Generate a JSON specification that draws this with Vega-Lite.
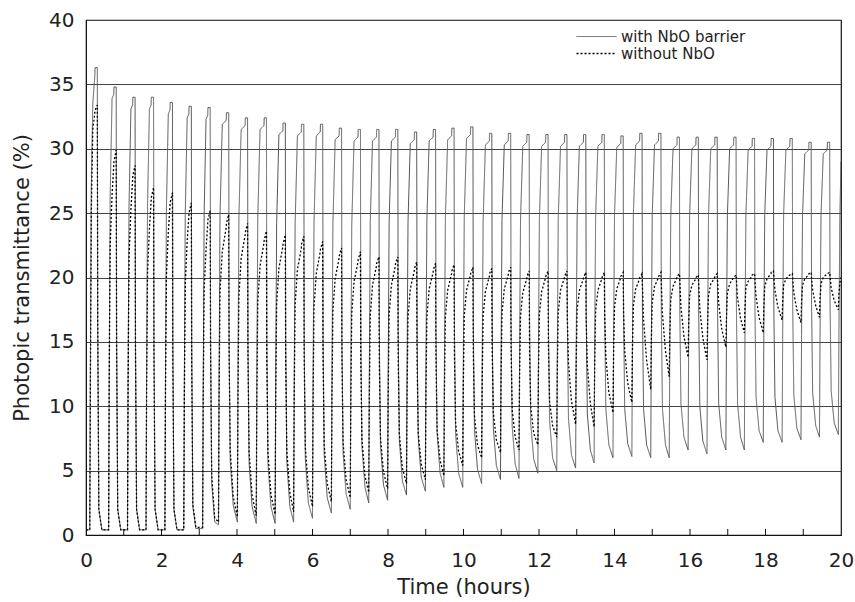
{
"$schema":"https://vega.github.io/schema/vega-lite/v6.json",
"width":755,"height":515,
"autosize":{"type":"none"},
"padding":{"left":86,"top":20,"right":14,"bottom":67},
"background":"white",
"config":{"font":"DejaVu Sans","view":{"stroke":"#111","strokeWidth":1.2}},
"layer":[
{
"data":{"values":[
{"t":0,"a":0.4,"b":0.4},{"t":0.1,"a":0.4,"b":0.4},{"t":0.115,"a":12,"b":11},{"t":0.14,"a":27,"b":25},{"t":0.18,"a":33.5,"b":31.5},{"t":0.235,"a":35.7,"b":32.8},{"t":0.24,"a":36.3,"b":33},{"t":0.3,"a":36.3,"b":33.4},{"t":0.31,"a":16.6,"b":16.9},{"t":0.34,"a":2,"b":2},{"t":0.42,"a":0.4,"b":0.4},
{"t":0.6,"a":0.4,"b":0.4},{"t":0.615,"a":12.4,"b":12.2},{"t":0.64,"a":26.2,"b":22.5},{"t":0.69,"a":33.9,"b":26.4},{"t":0.735,"a":34.2,"b":28.7},{"t":0.74,"a":34.8,"b":29},{"t":0.8,"a":34.8,"b":29.9},{"t":0.81,"a":15.9,"b":15.2},{"t":0.84,"a":2,"b":2},{"t":0.92,"a":0.4,"b":0.4},
{"t":1.1,"a":0.4,"b":0.4},{"t":1.115,"a":12.2,"b":11.7},{"t":1.14,"a":25.6,"b":21.6},{"t":1.19,"a":33.1,"b":25.3},{"t":1.235,"a":33.4,"b":27.6},{"t":1.24,"a":34,"b":27.9},{"t":1.3,"a":34,"b":28.7},{"t":1.31,"a":15.5,"b":14.6},{"t":1.34,"a":2,"b":2},{"t":1.42,"a":0.4,"b":0.4},
{"t":1.59,"a":0.4,"b":0.4},{"t":1.605,"a":12.2,"b":11},{"t":1.63,"a":25.6,"b":20.4},{"t":1.68,"a":33.1,"b":23.8},{"t":1.725,"a":33.4,"b":25.9},{"t":1.73,"a":34,"b":26.2},{"t":1.79,"a":34,"b":27},{"t":1.8,"a":15.5,"b":13.7},{"t":1.83,"a":2,"b":2},{"t":1.91,"a":0.4,"b":0.4},
{"t":2.09,"a":0.4,"b":0.4},{"t":2.105,"a":12,"b":10.9},{"t":2.13,"a":25.3,"b":20.1},{"t":2.18,"a":32.7,"b":23.5},{"t":2.225,"a":33,"b":25.6},{"t":2.23,"a":33.6,"b":25.8},{"t":2.29,"a":33.6,"b":26.6},{"t":2.3,"a":15.3,"b":13.5},{"t":2.33,"a":2,"b":2},{"t":2.41,"a":0.4,"b":0.4},
{"t":2.59,"a":0.4,"b":0.4},{"t":2.605,"a":11.9,"b":10.6},{"t":2.63,"a":25.1,"b":19.5},{"t":2.68,"a":32.4,"b":22.8},{"t":2.725,"a":32.7,"b":24.8},{"t":2.73,"a":33.3,"b":25},{"t":2.79,"a":33.3,"b":25.8},{"t":2.8,"a":15.3,"b":13.2},{"t":2.83,"a":2.2,"b":2.4},{"t":2.91,"a":0.5,"b":0.6},
{"t":3.09,"a":0.5,"b":0.6},{"t":3.105,"a":11.9,"b":10.4},{"t":3.13,"a":25,"b":19.1},{"t":3.18,"a":32.3,"b":22.2},{"t":3.225,"a":32.6,"b":24.2},{"t":3.23,"a":33.2,"b":24.5},{"t":3.29,"a":33.2,"b":25.2},{"t":3.3,"a":15.4,"b":14.3},{"t":3.33,"a":4,"b":4.6},{"t":3.41,"a":1,"b":1.3},
{"t":3.51,"a":0.8,"b":1},{"t":3.525,"a":12,"b":10.6},{"t":3.55,"a":24.8,"b":18.9},{"t":3.61,"a":31.9,"b":22},{"t":3.715,"a":32.2,"b":23.9},{"t":3.72,"a":32.8,"b":24.2},{"t":3.78,"a":32.8,"b":24.9},{"t":3.79,"a":15.3,"b":14.3},{"t":3.82,"a":5.8,"b":6.6},{"t":3.9,"a":2.3,"b":3},
{"t":4.01,"a":1,"b":1.4},{"t":4.025,"a":12,"b":10.5},{"t":4.05,"a":24.6,"b":18.5},{"t":4.11,"a":31.5,"b":21.5},{"t":4.215,"a":31.8,"b":23.3},{"t":4.22,"a":32.4,"b":23.5},{"t":4.28,"a":32.4,"b":24.2},{"t":4.29,"a":15.1,"b":14},{"t":4.32,"a":5.6,"b":6.5},{"t":4.4,"a":2.2,"b":3.1},
{"t":4.51,"a":0.9,"b":1.5},{"t":4.525,"a":11.9,"b":10.3},{"t":4.55,"a":24.5,"b":18.1},{"t":4.61,"a":31.5,"b":20.9},{"t":4.715,"a":31.8,"b":22.7},{"t":4.72,"a":32.4,"b":22.9},{"t":4.78,"a":32.4,"b":23.6},{"t":4.79,"a":15.1,"b":13.7},{"t":4.82,"a":5.6,"b":6.4},{"t":4.9,"a":2.2,"b":3.1},
{"t":5.01,"a":0.9,"b":1.6},{"t":5.025,"a":11.8,"b":10.3},{"t":5.05,"a":24.2,"b":17.9},{"t":5.11,"a":31.1,"b":20.7},{"t":5.215,"a":31.4,"b":22.4},{"t":5.22,"a":32,"b":22.6},{"t":5.28,"a":32,"b":23.3},{"t":5.29,"a":15,"b":13.6},{"t":5.32,"a":5.7,"b":6.5},{"t":5.4,"a":2.2,"b":3.3},
{"t":5.5,"a":1,"b":1.8},{"t":5.515,"a":11.8,"b":10.4},{"t":5.54,"a":24.2,"b":17.9},{"t":5.6,"a":31,"b":20.6},{"t":5.705,"a":31.3,"b":22.3},{"t":5.71,"a":31.9,"b":22.6},{"t":5.77,"a":31.9,"b":23.2},{"t":5.78,"a":15.1,"b":13.8},{"t":5.81,"a":5.9,"b":6.8},{"t":5.89,"a":2.5,"b":3.7},
{"t":6,"a":1.3,"b":2.2},{"t":6.015,"a":12,"b":10.4},{"t":6.04,"a":24.3,"b":17.7},{"t":6.1,"a":31,"b":20.3},{"t":6.205,"a":31.3,"b":22},{"t":6.21,"a":31.9,"b":22.2},{"t":6.27,"a":31.9,"b":22.8},{"t":6.28,"a":15.3,"b":13.7},{"t":6.31,"a":6.2,"b":7},{"t":6.39,"a":2.9,"b":4},
{"t":6.5,"a":1.7,"b":2.6},{"t":6.515,"a":12.2,"b":10.5},{"t":6.54,"a":24.1,"b":17.4},{"t":6.6,"a":30.7,"b":19.9},{"t":6.705,"a":31,"b":21.5},{"t":6.71,"a":31.6,"b":21.7},{"t":6.77,"a":31.6,"b":22.3},{"t":6.78,"a":15.3,"b":13.6},{"t":6.81,"a":6.4,"b":7.2},{"t":6.89,"a":3.2,"b":4.3},
{"t":7,"a":2,"b":2.9},{"t":7.015,"a":12.3,"b":10.5},{"t":7.04,"a":24.1,"b":17.2},{"t":7.1,"a":30.6,"b":19.7},{"t":7.205,"a":30.9,"b":21.2},{"t":7.21,"a":31.5,"b":21.4},{"t":7.27,"a":31.5,"b":22},{"t":7.28,"a":15.6,"b":13.6},{"t":7.31,"a":6.9,"b":7.4},{"t":7.39,"a":3.7,"b":4.6},
{"t":7.49,"a":2.5,"b":3.3},{"t":7.505,"a":12.7,"b":10.6},{"t":7.53,"a":24.3,"b":17},{"t":7.59,"a":30.6,"b":19.4},{"t":7.695,"a":30.9,"b":20.9},{"t":7.7,"a":31.5,"b":21.1},{"t":7.76,"a":31.5,"b":21.6},{"t":7.77,"a":15.7,"b":13.5},{"t":7.8,"a":7,"b":7.6},{"t":7.88,"a":3.9,"b":4.9},
{"t":7.99,"a":2.7,"b":3.6},{"t":8.005,"a":12.8,"b":10.8},{"t":8.03,"a":24.3,"b":17.1},{"t":8.09,"a":30.6,"b":19.4},{"t":8.195,"a":30.9,"b":20.9},{"t":8.2,"a":31.5,"b":21.1},{"t":8.26,"a":31.5,"b":21.6},{"t":8.27,"a":15.9,"b":13.7},{"t":8.3,"a":7.4,"b":7.9},{"t":8.38,"a":4.2,"b":5.2},
{"t":8.49,"a":3.1,"b":4},{"t":8.505,"a":13,"b":10.9},{"t":8.53,"a":24.3,"b":16.9},{"t":8.59,"a":30.4,"b":19.1},{"t":8.695,"a":30.7,"b":20.5},{"t":8.7,"a":31.3,"b":20.7},{"t":8.76,"a":31.3,"b":21.2},{"t":8.77,"a":16,"b":13.6},{"t":8.8,"a":7.6,"b":8},{"t":8.88,"a":4.5,"b":5.5},
{"t":8.99,"a":3.4,"b":4.3},{"t":9.005,"a":13.2,"b":11},{"t":9.03,"a":24.5,"b":16.9},{"t":9.09,"a":30.6,"b":19.1},{"t":9.195,"a":30.9,"b":20.4},{"t":9.2,"a":31.5,"b":20.6},{"t":9.26,"a":31.5,"b":21.1},{"t":9.27,"a":16.2,"b":13.7},{"t":9.3,"a":7.9,"b":8.2},{"t":9.38,"a":4.8,"b":5.8},
{"t":9.48,"a":3.7,"b":4.6},{"t":9.495,"a":13.5,"b":11.2},{"t":9.52,"a":24.6,"b":16.9},{"t":9.58,"a":30.7,"b":19},{"t":9.685,"a":31,"b":20.3},{"t":9.69,"a":31.6,"b":20.5},{"t":9.75,"a":31.6,"b":21},{"t":9.76,"a":16.3,"b":14},{"t":9.79,"a":7.9,"b":8.8},{"t":9.87,"a":4.8,"b":6.5},
{"t":9.98,"a":3.7,"b":5.4},{"t":9.995,"a":13.5,"b":11.6},{"t":10.02,"a":24.7,"b":17},{"t":10.08,"a":30.8,"b":19},{"t":10.185,"a":31.1,"b":20.2},{"t":10.19,"a":31.7,"b":20.3},{"t":10.25,"a":31.7,"b":20.8},{"t":10.26,"a":16.5,"b":14.1},{"t":10.29,"a":8.2,"b":9.3},{"t":10.37,"a":5.1,"b":7},
{"t":10.48,"a":4,"b":6},{"t":10.495,"a":13.5,"b":11.9},{"t":10.52,"a":24.4,"b":17},{"t":10.58,"a":30.3,"b":18.9},{"t":10.685,"a":30.6,"b":20.1},{"t":10.69,"a":31.2,"b":20.3},{"t":10.75,"a":31.2,"b":20.7},{"t":10.76,"a":16.4,"b":14.3},{"t":10.79,"a":8.3,"b":9.5},{"t":10.87,"a":5.4,"b":7.4},
{"t":10.98,"a":4.3,"b":6.4},{"t":10.995,"a":13.7,"b":12.2},{"t":11.02,"a":24.5,"b":17.2},{"t":11.08,"a":30.3,"b":19.1},{"t":11.185,"a":30.6,"b":20.2},{"t":11.19,"a":31.2,"b":20.4},{"t":11.25,"a":31.2,"b":20.8},{"t":11.26,"a":16.5,"b":14.4},{"t":11.29,"a":8.4,"b":9.7},{"t":11.37,"a":5.5,"b":7.6},
{"t":11.47,"a":4.4,"b":6.6},{"t":11.485,"a":13.7,"b":12.2},{"t":11.51,"a":24.4,"b":17},{"t":11.57,"a":30.2,"b":18.8},{"t":11.675,"a":30.5,"b":19.9},{"t":11.68,"a":31.1,"b":20.1},{"t":11.74,"a":31.1,"b":20.5},{"t":11.75,"a":16.6,"b":14.4},{"t":11.78,"a":8.7,"b":10},{"t":11.86,"a":5.9,"b":7.9},
{"t":11.97,"a":4.8,"b":7},{"t":11.985,"a":14,"b":12.4},{"t":12.01,"a":24.5,"b":17.1},{"t":12.07,"a":30.2,"b":18.9},{"t":12.175,"a":30.5,"b":20},{"t":12.18,"a":31.1,"b":20.1},{"t":12.24,"a":31.1,"b":20.5},{"t":12.25,"a":16.7,"b":14.7},{"t":12.28,"a":8.9,"b":10.4},{"t":12.36,"a":6,"b":8.5},
{"t":12.47,"a":5,"b":7.6},{"t":12.485,"a":14.1,"b":12.8},{"t":12.51,"a":24.6,"b":17.3},{"t":12.57,"a":30.2,"b":19},{"t":12.675,"a":30.5,"b":20},{"t":12.68,"a":31.1,"b":20.1},{"t":12.74,"a":31.1,"b":20.5},{"t":12.75,"a":16.9,"b":16.9},{"t":12.78,"a":9.1,"b":13.4},{"t":12.86,"a":6.2,"b":10.4},
{"t":12.97,"a":5.2,"b":8.6},{"t":12.985,"a":14.3,"b":13.3},{"t":13.01,"a":24.6,"b":17.5},{"t":13.07,"a":30.2,"b":19},{"t":13.175,"a":30.5,"b":19.9},{"t":13.18,"a":31.1,"b":20},{"t":13.24,"a":31.1,"b":20.4},{"t":13.25,"a":17.1,"b":16.8},{"t":13.28,"a":9.4,"b":13.2},{"t":13.36,"a":6.6,"b":10.2},
{"t":13.46,"a":5.6,"b":8.4},{"t":13.475,"a":14.5,"b":13.2},{"t":13.5,"a":24.7,"b":17.4},{"t":13.56,"a":30.2,"b":19},{"t":13.665,"a":30.5,"b":19.9},{"t":13.67,"a":31.1,"b":20},{"t":13.73,"a":31.1,"b":20.4},{"t":13.74,"a":17.3,"b":17.1},{"t":13.77,"a":9.8,"b":13.9},{"t":13.85,"a":7,"b":11.1},
{"t":13.96,"a":6,"b":9.5},{"t":13.975,"a":14.8,"b":13.9},{"t":14,"a":24.8,"b":17.7},{"t":14.06,"a":30.1,"b":19.1},{"t":14.165,"a":30.4,"b":20},{"t":14.17,"a":31,"b":20.1},{"t":14.23,"a":31,"b":20.4},{"t":14.24,"a":17.3,"b":17.4},{"t":14.27,"a":9.8,"b":14.3},{"t":14.35,"a":7.1,"b":11.8},
{"t":14.46,"a":6.1,"b":10.3},{"t":14.475,"a":14.9,"b":14.3},{"t":14.5,"a":24.9,"b":17.8},{"t":14.56,"a":30.3,"b":19.1},{"t":14.665,"a":30.6,"b":19.9},{"t":14.67,"a":31.2,"b":20},{"t":14.73,"a":31.2,"b":20.3},{"t":14.74,"a":17.3,"b":19.4},{"t":14.77,"a":9.8,"b":16.7},{"t":14.85,"a":7,"b":13.6},
{"t":14.96,"a":6,"b":11.3},{"t":14.975,"a":14.8,"b":14.9},{"t":15,"a":24.9,"b":18.1},{"t":15.06,"a":30.3,"b":19.3},{"t":15.165,"a":30.6,"b":20},{"t":15.17,"a":31.2,"b":20.1},{"t":15.23,"a":31.2,"b":20.4},{"t":15.24,"a":17.3,"b":19.6},{"t":15.27,"a":9.8,"b":17.2},{"t":15.35,"a":7,"b":14.3},
{"t":15.45,"a":6,"b":12.3},{"t":15.465,"a":14.7,"b":15.5},{"t":15.49,"a":24.7,"b":18.3},{"t":15.55,"a":30,"b":19.3},{"t":15.655,"a":30.3,"b":20},{"t":15.66,"a":30.9,"b":20.1},{"t":15.72,"a":30.9,"b":20.3},{"t":15.73,"a":17.5,"b":19.7},{"t":15.76,"a":10.2,"b":17.7},{"t":15.84,"a":7.6,"b":15.4},
{"t":15.95,"a":6.6,"b":13.8},{"t":15.965,"a":15.1,"b":16.4},{"t":15.99,"a":24.8,"b":18.6},{"t":16.05,"a":30,"b":19.4},{"t":16.155,"a":30.3,"b":19.9},{"t":16.16,"a":30.9,"b":20},{"t":16.22,"a":30.9,"b":20.2},{"t":16.23,"a":17.4,"b":19.5},{"t":16.26,"a":10,"b":17.6},{"t":16.34,"a":7.3,"b":15.3},
{"t":16.45,"a":6.3,"b":13.6},{"t":16.465,"a":14.9,"b":16.3},{"t":16.49,"a":24.8,"b":18.6},{"t":16.55,"a":30,"b":19.5},{"t":16.655,"a":30.3,"b":20},{"t":16.66,"a":30.9,"b":20.1},{"t":16.72,"a":30.9,"b":20.3},{"t":16.73,"a":17.5,"b":19.7},{"t":16.76,"a":10.2,"b":18},{"t":16.84,"a":7.6,"b":16},
{"t":16.95,"a":6.6,"b":14.6},{"t":16.965,"a":15.1,"b":16.8},{"t":16.99,"a":24.8,"b":18.8},{"t":17.05,"a":30,"b":19.5},{"t":17.155,"a":30.3,"b":20},{"t":17.16,"a":30.9,"b":20},{"t":17.22,"a":30.9,"b":20.2},{"t":17.23,"a":17.5,"b":19.8},{"t":17.26,"a":10.2,"b":18.4},{"t":17.34,"a":7.6,"b":16.8},
{"t":17.44,"a":6.6,"b":15.7},{"t":17.455,"a":15.1,"b":17.5},{"t":17.48,"a":24.8,"b":19.2},{"t":17.54,"a":29.9,"b":19.7},{"t":17.645,"a":30.2,"b":20.1},{"t":17.65,"a":30.8,"b":20.2},{"t":17.71,"a":30.8,"b":20.3},{"t":17.72,"a":17.8,"b":19.8},{"t":17.75,"a":10.7,"b":18.5},{"t":17.83,"a":8.1,"b":16.9},
{"t":17.94,"a":7.2,"b":15.7},{"t":17.955,"a":15.5,"b":17.6},{"t":17.98,"a":24.9,"b":19.3},{"t":18.04,"a":29.9,"b":19.9},{"t":18.145,"a":30.2,"b":20.3},{"t":18.15,"a":30.8,"b":20.4},{"t":18.21,"a":30.8,"b":20.5},{"t":18.22,"a":17.8,"b":20.1},{"t":18.25,"a":10.7,"b":19},{"t":18.33,"a":8.1,"b":17.7},
{"t":18.44,"a":7.2,"b":16.7},{"t":18.455,"a":15.5,"b":18.1},{"t":18.48,"a":24.9,"b":19.4},{"t":18.54,"a":29.9,"b":19.9},{"t":18.645,"a":30.2,"b":20.2},{"t":18.65,"a":30.8,"b":20.2},{"t":18.71,"a":30.8,"b":20.3},{"t":18.72,"a":17.9,"b":19.9},{"t":18.75,"a":10.9,"b":18.8},{"t":18.83,"a":8.3,"b":17.5},
{"t":18.94,"a":7.4,"b":16.5},{"t":18.955,"a":15.5,"b":18.1},{"t":18.98,"a":24.7,"b":19.4},{"t":19.04,"a":29.6,"b":19.9},{"t":19.145,"a":29.9,"b":20.2},{"t":19.15,"a":30.5,"b":20.3},{"t":19.21,"a":30.5,"b":20.4},{"t":19.22,"a":17.9,"b":20},{"t":19.25,"a":11,"b":19},{"t":19.33,"a":8.5,"b":17.8},
{"t":19.43,"a":7.6,"b":16.9},{"t":19.445,"a":15.6,"b":18.3},{"t":19.47,"a":24.8,"b":19.5},{"t":19.53,"a":29.6,"b":20},{"t":19.635,"a":29.9,"b":20.3},{"t":19.64,"a":30.5,"b":20.3},{"t":19.7,"a":30.5,"b":20.4},{"t":19.71,"a":18,"b":20.1},{"t":19.74,"a":11.2,"b":19.2},{"t":19.82,"a":8.7,"b":18.2},
{"t":19.93,"a":7.8,"b":17.5},{"t":19.945,"a":15.7,"b":18.7},{"t":19.97,"a":24.8,"b":19.6},{"t":20,"a":29,"b":20}
]},
"transform":[{"fold":["a","b"],"as":["series","value"]}],
"mark":{"type":"line","clip":true},
"encoding":{
"x":{"field":"t","type":"quantitative","scale":{"domain":[0,20],"nice":false,"zero":false},
"axis":{"title":"Time (hours)","values":[0,2,4,6,8,10,12,14,16,18,20],"grid":false,"ticks":false,"domainColor":"#111","labelFontSize":20,"titleFontSize":21,"labelPadding":15,"titlePadding":6,"labelColor":"#222","titleColor":"#222","titleFontWeight":"normal","labelFlush":false}},
"y":{"field":"value","type":"quantitative","scale":{"domain":[0,40],"nice":false},
"axis":{"title":"Photopic transmittance (%)","values":[0,5,10,15,20,25,30,35,40],"grid":true,"gridColor":"#444","gridWidth":1,"ticks":false,"domainColor":"#111","labelFontSize":20,"titleFontSize":21,"labelPadding":12,"titlePadding":16,"labelColor":"#222","titleColor":"#222","titleFontWeight":"normal"}},
"strokeWidth":{"field":"series","type":"nominal","scale":{"domain":["a","b"],"range":[1,1.3]},"legend":null},
"color":{"field":"series","type":"nominal","scale":{"domain":["a","b"],"range":["#555555","#000000"]},
"legend":{"orient":"none","legendX":503,"legendY":9,"title":null,"padding":0,"symbolType":"M-4,0H4","symbolSize":100,"symbolStrokeWidth":1,"labelFontSize":15,"labelOffset":17,"rowPadding":1,"labelColor":"#222","labelExpr":"datum.label == 'a' ? 'with NbO barrier' : 'without NbO'"}},
"strokeDash":{"field":"series","type":"nominal","scale":{"domain":["a","b"],"range":[[1,0],[2,2]]},
"legend":{"orient":"none","legendX":503,"legendY":9,"title":null,"padding":0,"symbolType":"M-4,0H4","symbolSize":100,"symbolStrokeWidth":1,"labelFontSize":15,"labelOffset":17,"rowPadding":1,"labelColor":"#222","labelExpr":"datum.label == 'a' ? 'with NbO barrier' : 'without NbO'"}}
}
},
{
"data":{"values":[{"t":1},{"t":3},{"t":5},{"t":7},{"t":9},{"t":11},{"t":13},{"t":15},{"t":17},{"t":19},{"t":2},{"t":4},{"t":6},{"t":8},{"t":10},{"t":12},{"t":14},{"t":16},{"t":18}]},
"mark":{"type":"rule","color":"#111","strokeWidth":1},
"encoding":{"x":{"field":"t","type":"quantitative"},"y":{"datum":0},"y2":{"datum":0.47}}
}
]
}
